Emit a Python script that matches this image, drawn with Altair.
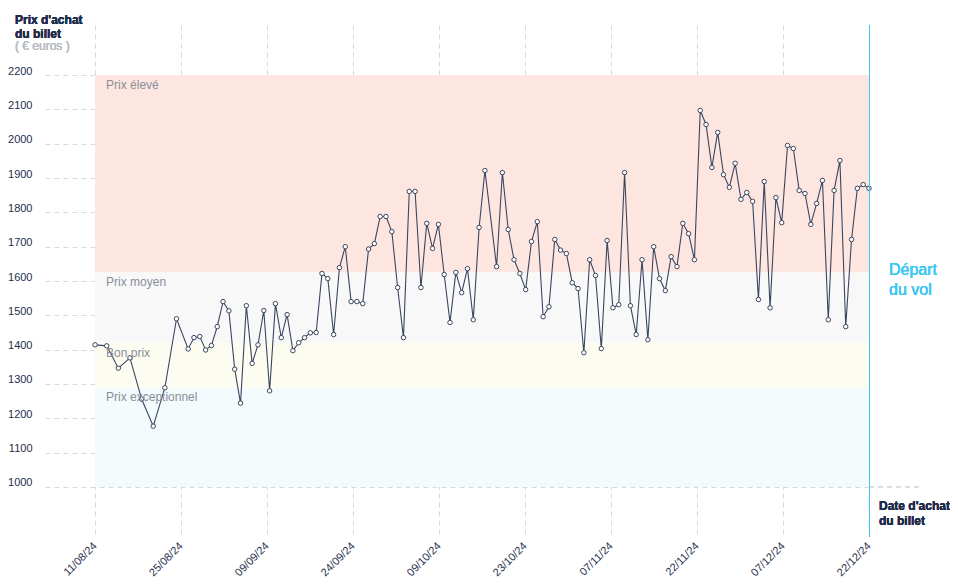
import json
import altair as alt
import pandas as pd

# ---------------- data ----------------
# day offsets from 11/08/24 (purchase dates) and ticket prices (EUR)
day_offsets = [0, 2, 4, 6, 8, 10, 12, 14, 16, 17, 18, 19, 20, 21, 22, 23, 24, 25, 26, 27,
               28, 29, 30, 31, 32, 33, 34, 35, 36, 37, 38, 39, 40, 41, 42, 43, 44, 45, 46, 47,
               48, 49, 50, 51, 52, 53, 54, 55, 56, 57, 58, 59, 60, 61, 62, 63, 64, 65, 66, 67,
               69, 70, 71, 72, 73, 74, 75, 76, 77, 78, 79, 80, 81, 82, 83, 84, 85, 86, 87, 88,
               89, 90, 91, 92, 93, 94, 95, 96, 97, 98, 99, 100, 101, 102, 103, 104, 105, 106, 107, 108,
               109, 110, 111, 112, 113, 114, 115, 116, 117, 118, 119, 120, 121, 122, 123, 124, 125, 126, 127, 128,
               129, 130, 131, 132, 133]
prices = [1414, 1411, 1346, 1376, 1256, 1177, 1289, 1490, 1402, 1435, 1438, 1399, 1412, 1467, 1540, 1513, 1343, 1244, 1528, 1360,
          1414, 1514, 1280, 1534, 1435, 1502, 1397, 1420, 1435, 1449, 1450, 1622, 1607, 1444, 1639, 1700, 1540, 1540, 1534, 1693,
          1709, 1788, 1788, 1744, 1581, 1435, 1861, 1861, 1581, 1768, 1695, 1765, 1619, 1479, 1625, 1566, 1636, 1487, 1756, 1922,
          1642, 1916, 1750, 1662, 1622, 1575, 1715, 1773, 1496, 1525, 1721, 1690, 1680, 1595, 1578, 1391, 1662, 1616, 1403, 1718,
          1522, 1531, 1916, 1528, 1444, 1662, 1429, 1700, 1607, 1572, 1671, 1642, 1768, 1738, 1662, 2097, 2056, 1931, 2033, 1910,
          1873, 1943, 1838, 1858, 1832, 1546, 1890, 1522, 1843, 1770, 1995, 1986, 1864, 1855, 1765, 1826, 1893, 1487, 1864, 1951,
          1467, 1721, 1870, 1881, 1870]

tick_labels = ["11/08/24", "25/08/24", "09/09/24", "24/09/24", "09/10/24",
               "23/10/24", "07/11/24", "22/11/24", "07/12/24", "22/12/24"]
y_ticks = [1000, 1100, 1200, 1300, 1400, 1500, 1600, 1700, 1800, 1900, 2000, 2100, 2200]

band_names = ["Prix élevé", "Prix moyen", "Bon prix", "Prix exceptionnel"]
band_tops = [2200, 1625, 1420, 1290]
band_bottoms = [1625, 1420, 1290, 1000]
band_colors = ["#fde6e0", "#f8f8f9", "#fcfcf1", "#f3fbfd"]

departure_day = 133

# ---------------- styling ----------------
FONT = "Liberation Sans"
NAVY = "#1f2d4d"
CYAN = "#41c8f2"
GRID = "#d9d9d9"
LINE = "#3a4660"

df = pd.DataFrame({"day": day_offsets, "price": prices})
bands = pd.DataFrame({"name": band_names, "top": band_tops, "bottom": band_bottoms,
                      "color": band_colors, "x0": 0, "x1": departure_day})

n_ticks = len(tick_labels)
tick_values = [departure_day * i / (n_ticks - 1) for i in range(n_ticks)]
label_expr = f"{json.dumps(tick_labels)}[round(datum.value * {n_ticks - 1} / {departure_day})]"

xscale = alt.Scale(domain=[-8.6, departure_day], nice=False, zero=False)
yscale = alt.Scale(domain=[854, 2346], nice=False, zero=False)

x_axis = alt.Axis(values=tick_values, labelExpr=label_expr, labelAngle=-45, labelAlign="right",
                  labelBaseline="middle", labelPadding=7, labelFontSize=11, labelColor=NAVY,
                  labelFont=FONT, ticks=False, domain=False, grid=True, gridColor=GRID,
                  gridDash=[5, 4], title=None, labelOverlap=False)
y_axis = alt.Axis(values=y_ticks, format="d", labelPadding=13, labelFontSize=11, labelColor=NAVY,
                  labelFont=FONT, labelBaseline="alphabetic", labelOffset=-1, ticks=False,
                  domain=False, grid=True, gridColor=GRID, gridDash=[5, 4], title=None)


def X(field):
    return alt.X(field, type="quantitative", scale=xscale, axis=x_axis)


def Y(field):
    return alt.Y(field, type="quantitative", scale=yscale, axis=y_axis)


band_layer = alt.Chart(bands).mark_rect().encode(
    x=X("x0"), x2="x1", y=Y("top"), y2="bottom",
    color=alt.Color("color:N", scale=None))

band_text = alt.Chart(bands).mark_text(
    align="left", baseline="top", dx=11, dy=5, fontSize=12, font=FONT, color="#8a8e99"
).encode(x=X("x0"), y=Y("top"), text="name:N")

ext_rule = alt.Chart(bands).mark_rule(color=GRID, strokeDash=[5, 4]).encode(
    x=alt.datum(departure_day), x2=alt.value(875), y=alt.datum(1000))

dep_rule = alt.Chart(bands).mark_rule(color=CYAN, strokeWidth=1, xOffset=0.5).encode(
    x=alt.datum(departure_day))

line = alt.Chart(df).mark_line(color=LINE, strokeWidth=1.1).encode(x=X("day"), y=Y("price"))
pts = alt.Chart(df).mark_point(shape="circle", filled=True, fill="white", stroke=LINE,
                               strokeWidth=1, size=20, opacity=1).encode(x=X("day"), y=Y("price"))

title_txt = alt.Chart(bands).mark_text(
    align="left", baseline="alphabetic", fontSize=12, fontWeight="bold", font=FONT, color=NAVY,
    lineBreak="\n", lineHeight=14
).encode(x=alt.value(-30), y=alt.value(-1), text=alt.value("Prix d'achat\ndu billet"))

euro_txt = alt.Chart(bands).mark_text(
    align="left", baseline="alphabetic", fontSize=12, font=FONT, color="#b9bcc4"
).encode(x=alt.value(-30), y=alt.value(25), text=alt.value("( € euros )"))

date_txt = alt.Chart(bands).mark_text(
    align="left", baseline="alphabetic", fontSize=12, fontWeight="bold", font=FONT, color=NAVY,
    lineBreak="\n", lineHeight=15
).encode(x=alt.value(834), y=alt.value(485), text=alt.value("Date d'achat\ndu billet"))

dep_txt = alt.Chart(bands).mark_text(
    align="left", baseline="alphabetic", fontSize=16, font=FONT, color=CYAN,
    lineBreak="\n", lineHeight=20
).encode(x=alt.value(844), y=alt.value(250), text=alt.value("Départ\ndu vol"))

chart = alt.layer(
    band_layer, ext_rule, line, pts, band_text, dep_rule, title_txt, euro_txt, date_txt, dep_txt
).properties(
    width=824, height=512,
    autosize=alt.AutoSizeParams(type="none"),
    padding={"left": 37, "top": 17, "right": 81, "bottom": 43},
    background="white",
).configure_view(stroke=None)

chart.save("out.html", embed_options={"renderer": "svg", "actions": False})
